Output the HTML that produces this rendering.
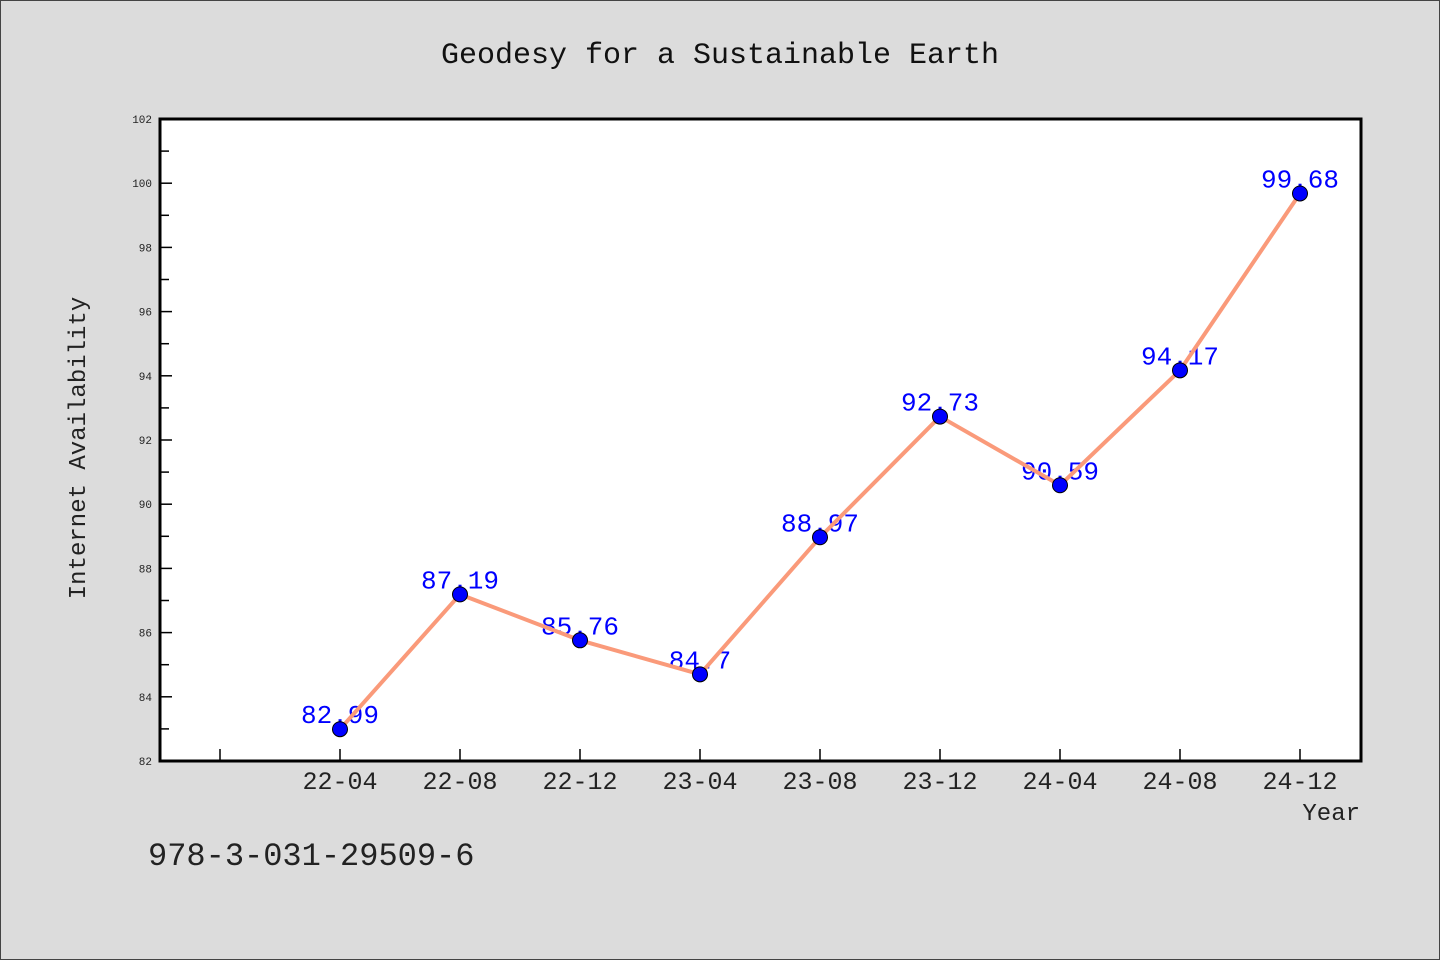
<!DOCTYPE html>
<html><head><meta charset="utf-8"><style>
html,body{margin:0;padding:0;background:#dcdcdc;}
svg{display:block;}
text{font-family:"Liberation Mono","WenQuanYi Zen Hei",monospace;}
</style></head><body>
<svg id="chart" width="1440" height="960" xmlns="http://www.w3.org/2000/svg">
<rect x="0.5" y="0.5" width="1439" height="959" fill="#dcdcdc" stroke="#444"/>
<text x="720" y="63" font-size="30" text-anchor="middle" fill="#111">Geodesy for a Sustainable Earth</text>
<rect x="160" y="119" width="1201" height="642" fill="#fff"/>
<g id="ticks"></g>
<g id="series"></g>
<rect x="160" y="119" width="1201" height="642" fill="none" stroke="#000" stroke-width="3"/>
<text transform="translate(85,448) rotate(-90)" font-size="24" text-anchor="middle" fill="#222">Internet Availability</text>
<text x="1360" y="820" font-size="24" text-anchor="end" fill="#222">Year</text>
<text x="148" y="865" font-size="32" fill="#222">978-3-031-29509-6</text>
</svg>
<script>
const categories=["22-04","22-08","22-12","23-04","23-08","23-12","24-04","24-08","24-12"];
const values=[82.99,87.19,85.76,84.7,88.97,92.73,90.59,94.17,99.68];
const labels=["82.99","87.19","85.76","84.7","88.97","92.73","90.59","94.17","99.68"];
const yTicks=[82,84,86,88,90,92,94,96,98,100,102];
const NS="http://www.w3.org/2000/svg";
const L=160,R=1361,T=119,B=761,yMin=82,yMax=102;
function y(v){return B-(v-yMin)/(yMax-yMin)*(B-T);}
function x(i){return 220+120*(i+1);}
function mk(tag,attrs,parent){const e=document.createElementNS(NS,tag);for(const k in attrs)e.setAttribute(k,attrs[k]);parent.appendChild(e);return e;}
const tg=document.getElementById('ticks'),sg=document.getElementById('series');
yTicks.forEach((t,i)=>{
  const ln=mk('line',{x1:L,x2:L+12,y1:y(t),y2:y(t),stroke:'#000','stroke-width':1.5},tg);
  
  
  const tx=mk('text',{x:152,y:y(t)+4,'font-size':11,'text-anchor':'end',fill:'#222'},tg);
  tx.textContent=t;
  
  
  if(i<yTicks.length-1){
    const m=mk('line',{x1:L,x2:L+9,y1:y(t+1),y2:y(t+1),stroke:'#000','stroke-width':1.5},tg);
    
    
  }
});
for(let i=-1;i<categories.length;i++){
  const ln=mk('line',{x1:x(i),x2:x(i),y1:B,y2:B-12,stroke:'#000','stroke-width':1.5},tg);
  
  
  if(i>=0){
    const tx=mk('text',{x:x(i),y:B+28,'font-size':25,'text-anchor':'middle',fill:'#222'},tg);
    tx.textContent=categories[i];
    
    
  }
}
values.forEach((v,i)=>{
  const t=mk('text',{x:x(i),y:y(v)-6,'font-size':26,'text-anchor':'middle',fill:'#0000ff'},sg);
  t.textContent=labels[i];
  
  
});
const pl=mk('polyline',{points:values.map((v,i)=>x(i)+','+y(v)).join(' '),fill:'none',stroke:'#fa9a7a','stroke-width':4,'stroke-linejoin':'round'},sg);


values.forEach((v,i)=>{
  const c=mk('circle',{cx:x(i),cy:y(v),r:7.5,fill:'#0000ff',stroke:'#000','stroke-width':1},sg);
  
  
});
</script>
</body></html>
